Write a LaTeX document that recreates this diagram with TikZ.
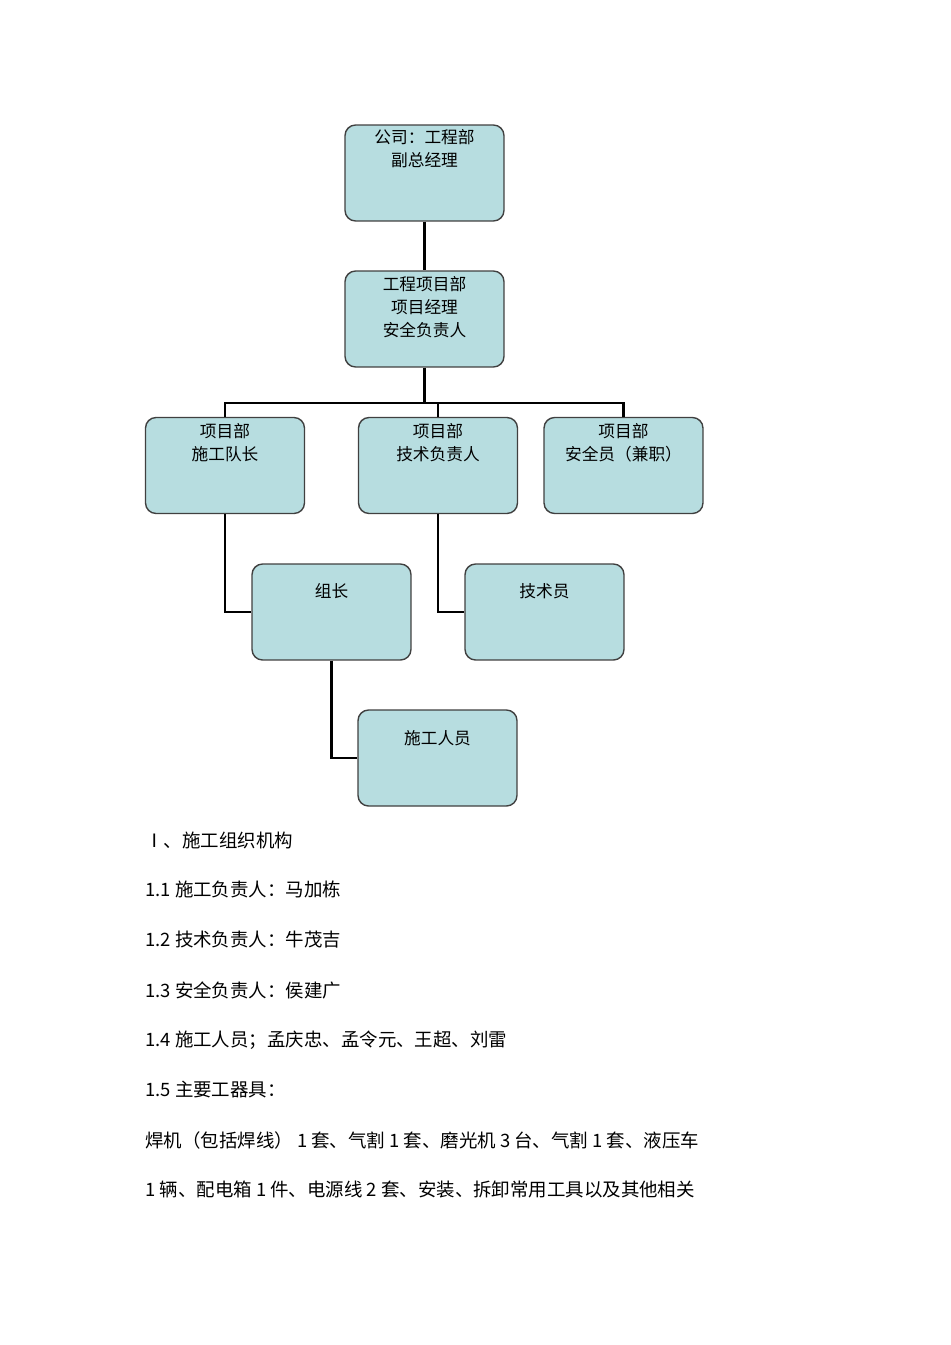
\documentclass[tikz,border=0pt]{standalone}
\usepackage{fontspec}
\setmainfont{Noto Sans CJK SC}
\begin{document}
\begin{tikzpicture}[x=0.02cm,y=-0.02cm]
  \tikzset{
    box/.style={draw=black!75, fill=cyan!25!teal!20!white, fill=boxfill, rounded corners=6pt, line width=0.8pt, minimum width=3.18cm, minimum height=1.92cm, inner sep=0pt},
    boxtext/.style={anchor=north, align=center, font=\fontsize{9.5pt}{13pt}\selectfont, inner sep=0pt},
    line/.style={line width=1.6pt, black},
    body/.style={anchor=west, font=\fontsize{10.5pt}{12pt}\selectfont, inner sep=0pt}
  }
  \definecolor{boxfill}{HTML}{B7DDE0}
  \useasboundingbox (0,0) rectangle (950,1345);

  % boxes
  \node[box] (gs) at (424.5,173) {};
  \node[box] (xm) at (424.5,319) {};
  \node[box] (sg) at (225,465.5) {};
  \node[box] (js) at (438,465.5) {};
  \node[box] (aq) at (623.5,465.5) {};
  \node[box] (zz) at (331.5,612) {};
  \node[box] (jsy) at (544.5,612) {};
  \node[box] (ry) at (437.5,758) {};

  \node[boxtext] at (424.5,129) {公司：工程部\\副总经理};
  \node[boxtext] at (424.5,276) {工程项目部\\项目经理\\安全负责人};
  \node[boxtext] at (225,423) {项目部\\施工队长};
  \node[boxtext] at (438,423) {项目部\\技术负责人};
  \node[boxtext] at (623.5,423) {项目部\\安全员（兼职）};
  \node[boxtext] at (331.5,583) {组长};
  \node[boxtext] at (544.5,583) {技术员};
  \node[boxtext] at (437.5,730) {施工人员};

  % connectors
  \coordinate (bar) at (424.5,403);
  \draw[line] (gs.south) -- (xm.north);
  \draw[line] (xm.south) -- (bar);
  \draw[line] (sg.north) |- (bar) -| (aq.north);
  \draw[line] (js.north) -- (js.north |- bar);
  \draw[line] (sg.south) |- (zz.west);
  \draw[line] (js.south) |- (jsy.west);
  \draw[line] (zz.south) |- (ry.west);

  % text
  \node[body] (t0) at (145,840) {Ⅰ、施工组织机构};
  \node[body] (t1) at (145,889) {1.1\ 施工负责人：马加栋};
  \node[body] (t2) at (145,940) {1.2\ 技术负责人：牛茂吉};
  \node[body] (t3) at (145,990) {1.3\ 安全负责人：侯建广};
  \node[body] (t4) at (145,1040) {1.4\ 施工人员；孟庆忠、孟令元、王超、刘雷};
  \node[body] (t5) at (145,1090) {1.5\ 主要工器具：};
  \node[body] (t6) at (145,1140) {焊机（包括焊线）\ 1 套、气割 1 套、磨光机\ 3 台、气割\ 1 套、液压车};
  \node[body] (t7) at (145,1189) {1 辆、配电箱\ 1 件、电源线\ 2 套、安装、拆卸常用工具以及其他相关};
\end{tikzpicture}
\end{document}
